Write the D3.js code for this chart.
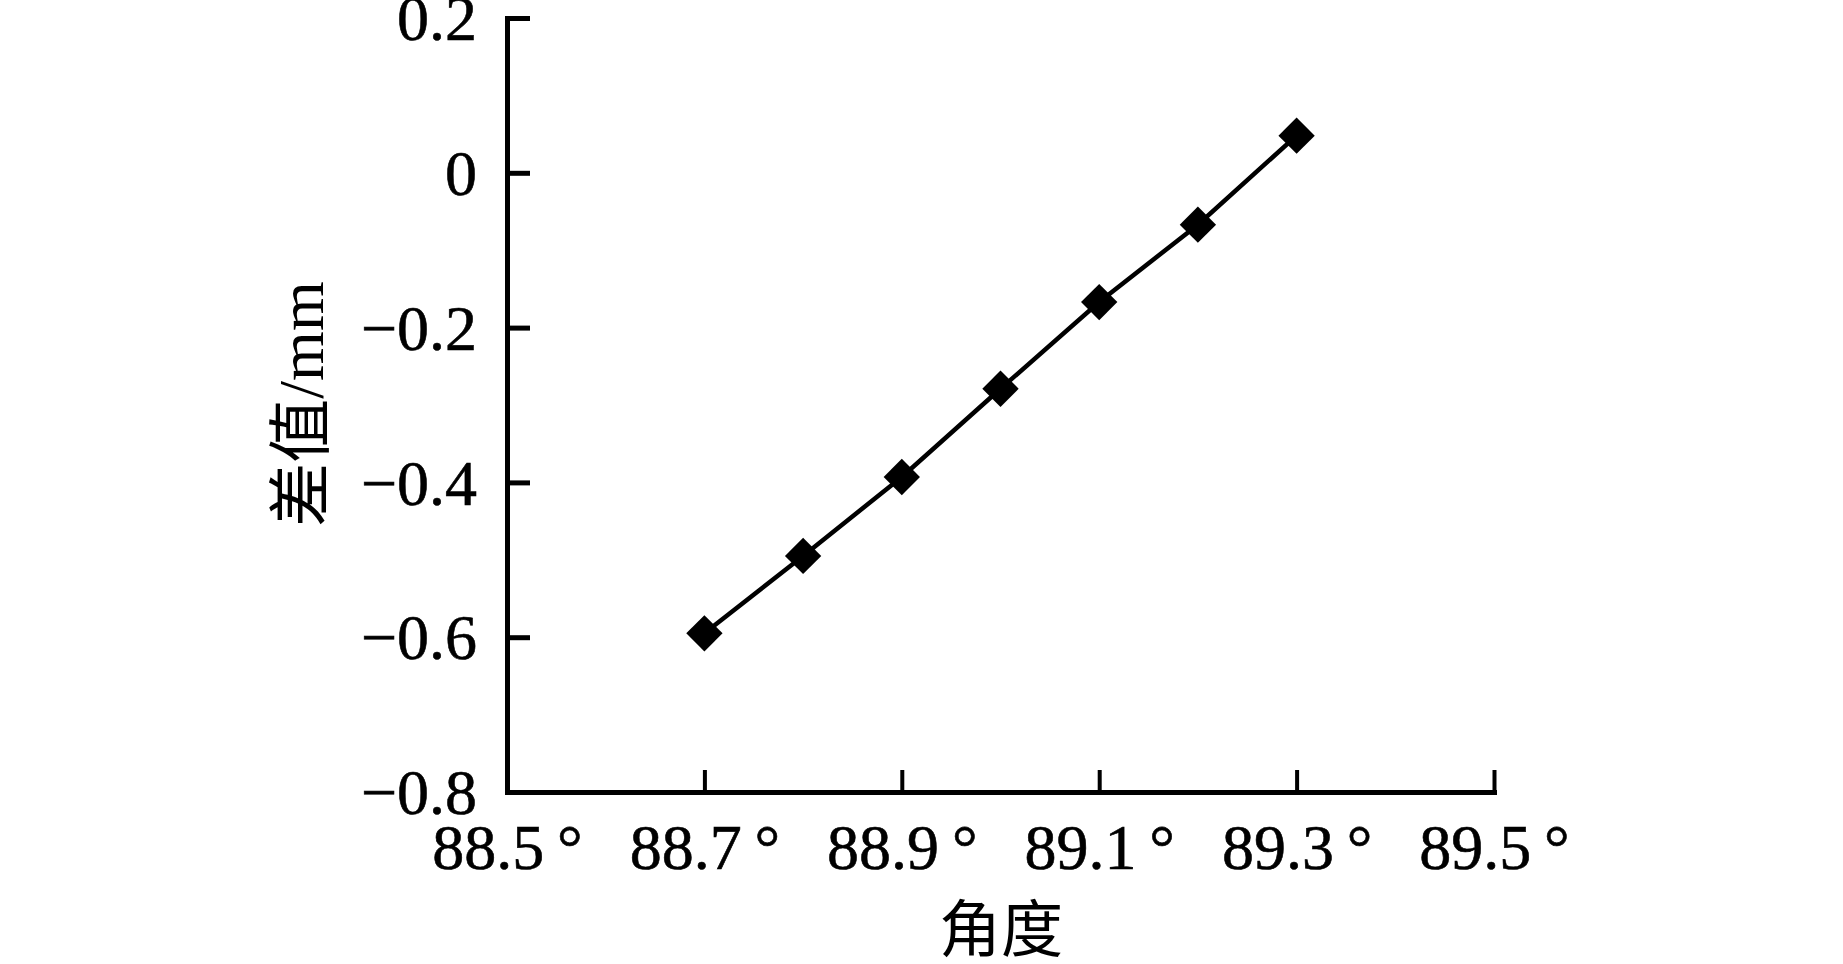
<!DOCTYPE html>
<html>
<head>
<meta charset="utf-8">
<script src="https://cdn.jsdelivr.net/npm/d3@7"></script>
<style>
  html, body { margin: 0; padding: 0; background: #fff; }
  svg { display: block; }
  .axis text { font-family: 'Liberation Serif', 'Noto Sans CJK SC', serif; font-size: 64px; fill: #000; stroke: #000; stroke-width: 0.6px; }
  .title { font-family: 'Liberation Serif', 'Noto Sans CJK SC', serif; fill: #000; }
</style>
</head>
<body>
<div id="chart"></div>
<script>
(function() {
	'use strict';

	// data
	var angles = [88.7, 88.8, 88.9, 89.0, 89.1, 89.2, 89.3];
	var diffs = [-0.595, -0.495, -0.393, -0.279, -0.167, -0.067, 0.048];
	var xTicks = [88.5, 88.7, 88.9, 89.1, 89.3, 89.5];
	var yTicks = [-0.8, -0.6, -0.4, -0.2, 0, 0.2];

	var WIDTH = 1843;
	var HEIGHT = 964;
	var LEFT = 507, RIGHT = 1494, TOP = 18, BOTTOM = 792;

	var svg = d3.select('#chart')
		.append('svg')
		.attr('width', WIDTH)
		.attr('height', HEIGHT);

	var x = d3.scaleLinear().domain([88.5, 89.5]).range([LEFT, RIGHT]);
	var y = d3.scaleLinear().domain([-0.8, 0.2]).range([BOTTOM, TOP]);

	var fmtY = function(d) { return d === 0 ? '0' : d3.format('.1f')(d); };

	var yAxis = svg.append('g')
		.attr('class', 'axis')
		.attr('transform', 'translate(' + LEFT + ',0)')
		.call(d3.axisLeft(y).tickValues(yTicks).tickFormat(fmtY)
			.tickSizeInner(-23).tickSizeOuter(0).tickPadding(30));

	yAxis.select('.domain').attr('stroke-width', 5).attr('stroke-linecap', 'square');
	yAxis.selectAll('.tick line').attr('stroke-width', 5);
	yAxis.selectAll('.tick text').attr('dy', '0.34em');

	var xAxis = svg.append('g')
		.attr('class', 'axis')
		.attr('transform', 'translate(0,' + BOTTOM + ')')
		.call(d3.axisBottom(x).tickValues(xTicks).tickFormat(function(d) { return d3.format('.1f')(d) + '\u2009°'; })
			.tickSizeInner(-22).tickSizeOuter(0));

	xAxis.select('.domain').attr('stroke-width', 5).attr('stroke-linecap', 'square');
	xAxis.selectAll('.tick line').attr('stroke-width', 4);
	xAxis.selectAll('.tick text').attr('y', 77).attr('dy', 0);

	// line + diamond markers
	var line = d3.line()
		.x(function(d, i) { return x(angles[i]); })
		.y(function(d) { return y(d); });

	svg.append('path')
		.datum(diffs)
		.attr('d', line)
		.attr('fill', 'none')
		.attr('stroke', '#000')
		.attr('stroke-width', 4.5);

	svg.selectAll('.marker')
		.data(diffs)
		.enter()
		.append('path')
		.attr('class', 'marker')
		.attr('d', d3.symbol().type(d3.symbolSquare).size(660))
		.attr('transform', function(d, i) {
			return 'translate(' + x(angles[i]) + ',' + y(d) + ') rotate(45)';
		})
		.attr('fill', '#000');

	// axis titles
	svg.append('text')
		.attr('class', 'title')
		.attr('x', 1001)
		.attr('y', 952)
		.attr('text-anchor', 'middle')
		.attr('font-size', 62)
		.text('角度');

	svg.append('text')
		.attr('class', 'title')
		.attr('transform', 'translate(323,404) rotate(-90)')
		.attr('text-anchor', 'middle')
		.attr('font-size', 64)
		.text('差值/mm');
}());
</script>
</body>
</html>
